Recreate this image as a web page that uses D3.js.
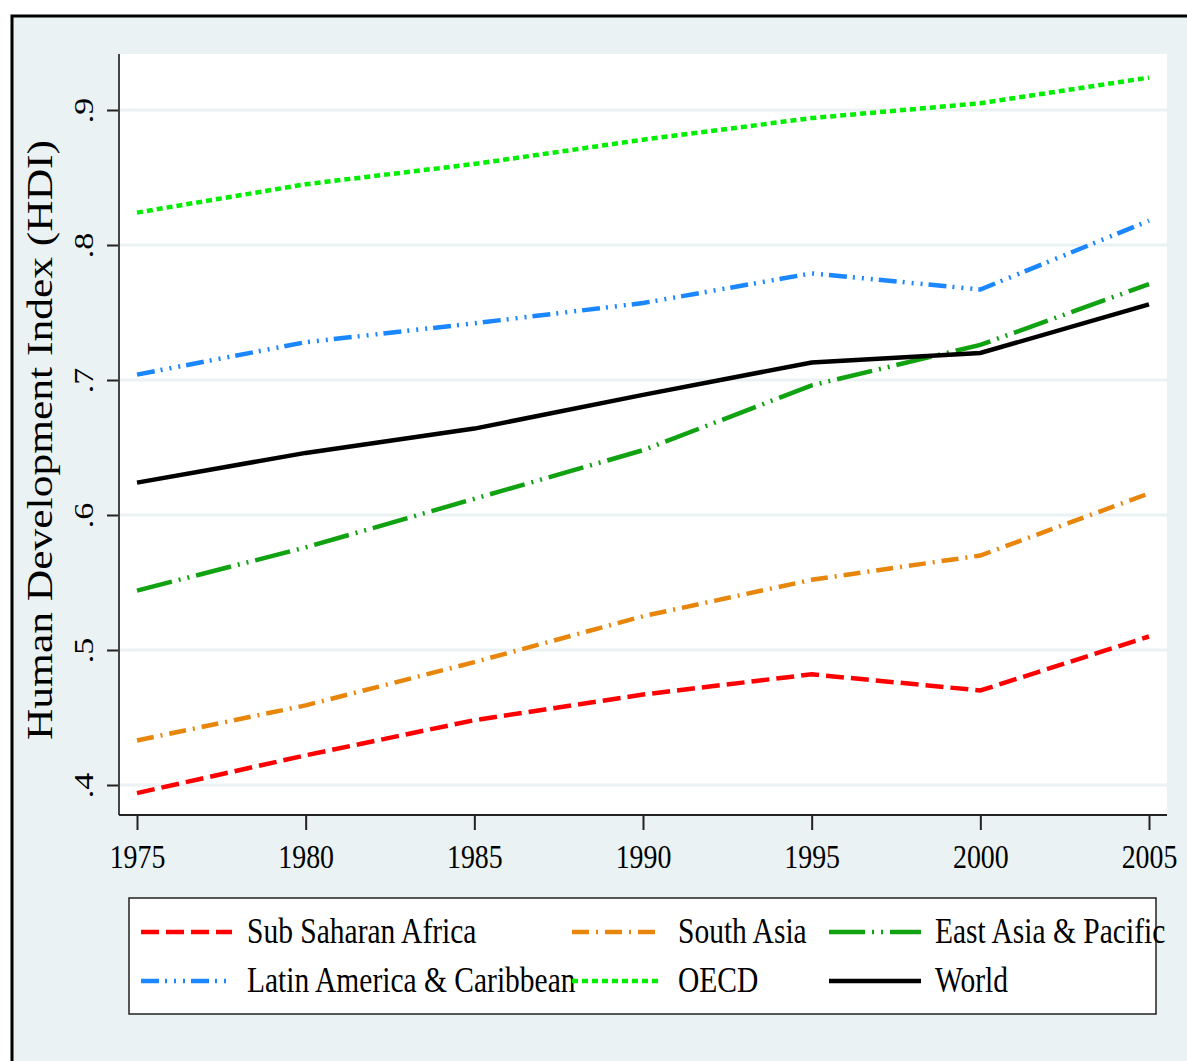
<!DOCTYPE html>
<html>
<head>
<meta charset="utf-8">
<script src="https://cdn.jsdelivr.net/npm/d3@7.9.0/dist/d3.min.js"></script>
<style>
  html, body { margin: 0; padding: 0; background: #ffffff; }
  svg { display: block; }
</style>
</head>
<body>
<div id="chart"></div>
<script>
// === Data ===
const years = [1975, 1980, 1985, 1990, 1995, 2000, 2005];
const subSaharanAfrica = [0.394, 0.422, 0.448, 0.467, 0.482, 0.470, 0.510];
const southAsia = [0.433, 0.459, 0.491, 0.525, 0.552, 0.570, 0.616];
const eastAsiaPacific = [0.544, 0.576, 0.612, 0.648, 0.696, 0.726, 0.771];
const latinAmerica = [0.704, 0.728, 0.742, 0.757, 0.779, 0.767, 0.818];
const oecd = [0.824, 0.845, 0.860, 0.878, 0.894, 0.905, 0.924];
const world = [0.624, 0.646, 0.664, 0.689, 0.713, 0.720, 0.756];

const seriesNames = ["Sub Saharan Africa", "South Asia", "East Asia & Pacific",
                     "Latin America & Caribbean", "OECD", "World"];
const xTicks = [1975, 1980, 1985, 1990, 1995, 2000, 2005];
const yTicks = [0.4, 0.5, 0.6, 0.7, 0.8, 0.9];
const yTitle = "Human Development Index (HDI)";

// === Styles per series ===
const seriesStyle = [
  { values: subSaharanAfrica, color: "#ff0000", dash: "18,7" },
  { values: southAsia, color: "#e8860c", dash: "17,7,2,7" },
  { values: eastAsiaPacific, color: "#10a210", dash: "36,7,2,7,2,7" },
  { values: latinAmerica, color: "#1a87ff", dash: "18,6,2,7,2,7,2,6" },
  { values: oecd, color: "#00ee00", dash: "6,4" },
  { values: world, color: "#000000", dash: null }
];

// === Layout ===
const W = 1187, H = 1061;
const plot = { left: 119, right: 1167, top: 54, bottom: 815 };
const bg = "#eaf2f3";
const font = "'Liberation Serif', 'Times New Roman', serif";
const squeeze = 0.82; // the original is horizontally compressed

const svg = d3.select("#chart").append("svg")
  .attr("width", W).attr("height", H);

// outer frame
svg.append("rect")
  .attr("x", 12).attr("y", 16)
  .attr("width", W + 20).attr("height", H + 20)
  .attr("fill", bg).attr("stroke", "#000").attr("stroke-width", 3);

// plot area
svg.append("rect")
  .attr("x", plot.left).attr("y", plot.top)
  .attr("width", plot.right - plot.left).attr("height", plot.bottom - plot.top)
  .attr("fill", "#ffffff");

// === Scales ===
const x = d3.scaleLinear().domain([1975, 2005]).range([137, 1149]);
const y = d3.scaleLinear().domain([0.4, 0.9]).range([785, 110]);

// gridlines
svg.append("g").selectAll("line")
  .data(yTicks)
  .join("line")
  .attr("x1", plot.left).attr("x2", plot.right)
  .attr("y1", d => y(d)).attr("y2", d => y(d))
  .attr("stroke", bg).attr("stroke-width", 3);

// === Axes ===
const yAxisG = svg.append("g")
  .attr("transform", `translate(${plot.left},0)`)
  .call(d3.axisLeft(y).tickValues(yTicks).tickSize(12).tickSizeOuter(0)
    .tickFormat(d => d3.format(".1f")(d).slice(1)));
yAxisG.select(".domain").remove();
yAxisG.selectAll(".tick line").attr("stroke", "#222").attr("stroke-width", 2);
yAxisG.selectAll(".tick text")
  .attr("x", 0).attr("dy", null).attr("y", 0)
  .attr("text-anchor", "middle")
  .attr("transform", `translate(-26,0) scale(${squeeze},1) rotate(-90)`)
  .attr("font-family", font).attr("font-size", 34).attr("fill", "#000");

const xAxisG = svg.append("g")
  .attr("transform", `translate(0,${plot.bottom})`)
  .call(d3.axisBottom(x).tickValues(xTicks).tickSize(15).tickSizeOuter(0)
    .tickFormat(d3.format("d")));
xAxisG.select(".domain").remove();
xAxisG.selectAll(".tick line").attr("stroke", "#222").attr("stroke-width", 2);
xAxisG.selectAll(".tick text")
  .attr("y", 53).attr("dy", null)
  .attr("transform", `scale(${squeeze},1)`)
  .attr("font-family", font).attr("font-size", 34).attr("fill", "#000");

// axis lines along plot edges
svg.append("line")
  .attr("x1", plot.left).attr("x2", plot.left)
  .attr("y1", plot.top).attr("y2", plot.bottom)
  .attr("stroke", "#444").attr("stroke-width", 2);
svg.append("line")
  .attr("x1", plot.left).attr("x2", plot.right)
  .attr("y1", plot.bottom).attr("y2", plot.bottom)
  .attr("stroke", "#222").attr("stroke-width", 2);

// y title
svg.append("text")
  .attr("transform", `translate(52,440) scale(${squeeze},1) rotate(-90)`)
  .attr("text-anchor", "middle")
  .attr("font-family", font).attr("font-size", 43.5)
  .text(yTitle);

// === Lines ===
const line = d3.line()
  .x((d, i) => x(years[i]))
  .y(d => y(d));

svg.append("g").selectAll("path")
  .data(seriesStyle)
  .join("path")
  .attr("d", d => line(d.values))
  .attr("fill", "none")
  .attr("stroke", d => d.color)
  .attr("stroke-width", 4.5)
  .attr("stroke-dasharray", d => d.dash);

// === Legend ===
svg.append("rect")
  .attr("x", 129).attr("y", 898)
  .attr("width", 1027).attr("height", 116)
  .attr("fill", "#ffffff").attr("stroke", "#222").attr("stroke-width", 1.5);

const legendCols = [
  { x1: 141, x2: 232, tx: 247 },
  { x1: 572, x2: 660, tx: 678 },
  { x1: 829, x2: 921, tx: 935 }
];
const legendRows = [932, 981];

const legendG = svg.append("g").selectAll("g")
  .data(seriesStyle.map((s, i) => ({ ...s, name: seriesNames[i], col: legendCols[i % 3], row: legendRows[Math.floor(i / 3)] })))
  .join("g");

legendG.append("line")
  .attr("x1", d => d.col.x1).attr("x2", d => d.col.x2)
  .attr("y1", d => d.row).attr("y2", d => d.row)
  .attr("stroke", d => d.color).attr("stroke-width", 4.5)
  .attr("stroke-dasharray", d => d.dash);

legendG.append("text")
  .attr("transform", d => `translate(${d.col.tx},${d.row + 11}) scale(${squeeze},1)`)
  .attr("font-family", font).attr("font-size", 36)
  .text(d => d.name);
</script>
</body>
</html>
